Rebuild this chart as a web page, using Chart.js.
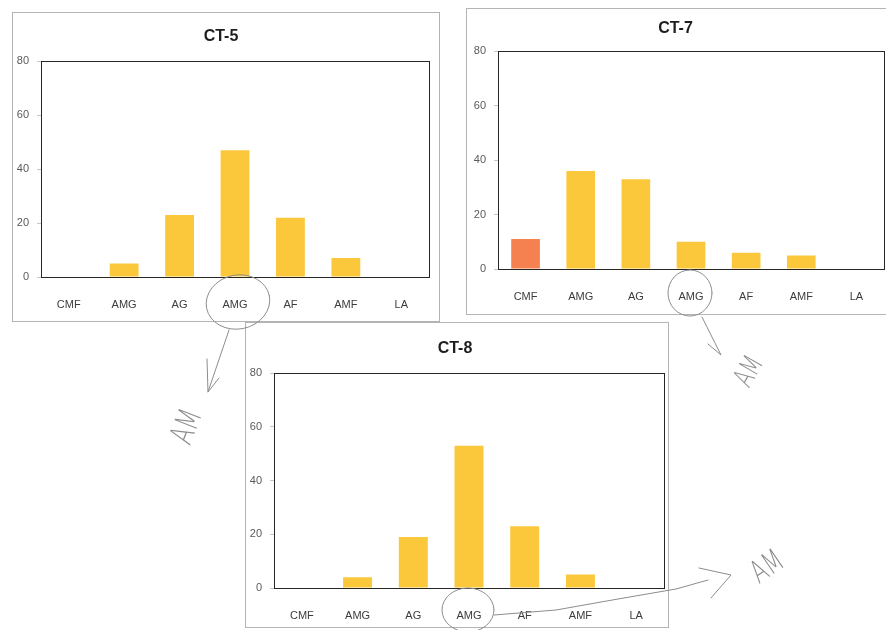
<!DOCTYPE html>
<html>
<head>
<meta charset="utf-8">
<script src="https://cdn.jsdelivr.net/npm/chart.js@4.4.1/dist/chart.umd.min.js"></script>
<style>
  html, body { margin: 0; padding: 0; background: #fff; }
  body { width: 886px; height: 630px; position: relative; overflow: hidden; }
  .panel { position: absolute; background: #fff; border: 1px solid #b4b4b4; box-sizing: border-box; }
  .panel canvas { position: absolute; left: 0; top: 0; }
  #notes { position: absolute; left: 0; top: 0; pointer-events: none; }
</style>
</head>
<body>
<div class="panel" id="p5"><canvas id="c5"></canvas></div>
<div class="panel" id="p7"><canvas id="c7"></canvas></div>
<div class="panel" id="p8"><canvas id="c8"></canvas></div>
<canvas id="notes" width="886" height="630"></canvas>
<script>
// Categories along the x axis (same order in every panel)
const categories = ['CMF', 'AMG', 'AG', 'AMG', 'AF', 'AMF', 'LA'];

// Values per panel
const ct5Values = [0, 5, 23, 47, 22, 7, 0];
const ct7Values = [11, 36, 33, 10, 6, 5, 0];
const ct8Values = [0, 4, 19, 53, 23, 5, 0];

// Y axis tick labels
const yTicks = [0, 20, 40, 60, 80];

// Panel titles
const titles = ['CT-5', 'CT-7', 'CT-8'];

// Bar colour per category
const ORANGE = '#F4814F';
const YELLOW = '#FBC73B';
const barColors = categories.map((c, i) => i === 0 ? ORANGE : YELLOW);

// Panel boxes and plot insets (px)
const panels = [
  { id: 'p5', canvas: 'c5', left: 12,  top: 12,  width: 428, height: 310,
    yW: 28, xH: 46, padR: 12, tTop: 14, tBot: 15, values: ct5Values, title: titles[0] },
  { id: 'p7', canvas: 'c7', left: 466, top: 8,   width: 430, height: 307,
    yW: 31, xH: 47, padR: 13, tTop: 10, tBot: 13, values: ct7Values, title: titles[1] },
  { id: 'p8', canvas: 'c8', left: 245, top: 322, width: 424, height: 306,
    yW: 28, xH: 41, padR: 6,  tTop: 16, tBot: 15, values: ct8Values, title: titles[2] }
];

const FONT = "'Liberation Sans', Arial, Helvetica, sans-serif";

// Dark frame around the plot area
const framePlugin = {
  id: 'frame',
  afterDatasetsDraw(chart) {
    const a = chart.chartArea, ctx = chart.ctx;
    ctx.save();
    ctx.strokeStyle = '#262626';
    ctx.lineWidth = 1;
    ctx.strokeRect(Math.round(a.left) + 0.5, Math.round(a.top) + 0.5,
                   Math.round(a.right - a.left), Math.round(a.bottom - a.top));
    ctx.restore();
  }
};

const charts = panels.map(p => {
  const div = document.getElementById(p.id);
  Object.assign(div.style, { left: p.left + 'px', top: p.top + 'px',
                             width: p.width + 'px', height: p.height + 'px' });
  const cv = document.getElementById(p.canvas);
  cv.width = p.width; cv.height = p.height;
  return new Chart(cv, {
    type: 'bar',
    data: {
      labels: categories,
      datasets: [{ data: p.values, backgroundColor: barColors, borderWidth: 0,
                   barPercentage: 0.52, categoryPercentage: 1 }]
    },
    options: {
      responsive: false,
      animation: false,
      events: [],
      layout: { padding: { left: 0, right: p.padR, top: 0, bottom: 0 } },
      plugins: {
        legend: { display: false },
        tooltip: { enabled: false },
        title: {
          display: true, text: p.title, color: '#1e1e1e',
          font: { family: FONT, size: 16, weight: 'bold' },
          padding: { top: p.tTop, bottom: p.tBot }
        }
      },
      scales: {
        x: {
          grid: { display: false },
          border: { display: false },
          ticks: { color: '#3c3c3c', font: { family: FONT, size: 11 }, padding: 13,
                   maxRotation: 0, autoSkip: false },
          afterFit(s) { s.height = p.xH; }
        },
        y: {
          min: 0, max: 80,
          afterBuildTicks(s) { s.ticks = yTicks.map(v => ({ value: v })); },
          grid: { drawOnChartArea: false, drawTicks: true, tickLength: 4, tickColor: '#c8c8c8' },
          border: { display: false },
          ticks: { color: '#5a5a5a', font: { family: FONT, size: 11 }, padding: 8 },
          afterFit(s) { s.width = p.yW; }
        }
      }
    },
    plugins: [framePlugin]
  });
});

// Pencil notes: circles round the fourth category label, arrows and "AM"
(function drawNotes() {
  const ctx = document.getElementById('notes').getContext('2d');
  ctx.strokeStyle = '#8c8c8c';
  ctx.fillStyle = '#8c8c8c';
  ctx.lineWidth = 1;
  ctx.lineCap = 'round';
  ctx.lineJoin = 'round';

  function labelPos(i) {
    const ch = charts[i], p = panels[i];
    return { x: p.left + ch.scales.x.getPixelForTick(3),
             y: p.top + ch.chartArea.bottom + 19 };
  }
  function ellipse(cx, cy, rx, ry, rot) {
    ctx.beginPath();
    ctx.ellipse(cx, cy, rx, ry, rot, 0, Math.PI * 2);
    ctx.stroke();
  }
  function poly(pts) {
    ctx.beginPath();
    ctx.moveTo(pts[0][0], pts[0][1]);
    for (let k = 1; k < pts.length; k++) ctx.lineTo(pts[k][0], pts[k][1]);
    ctx.stroke();
  }
  function note(x, y, ang, size) {
    ctx.save();
    ctx.translate(x, y);
    ctx.rotate(ang);
    ctx.scale(0.85, 1.25);
    ctx.font = '200 ' + size + "px 'DejaVu Sans', sans-serif";
    ctx.textAlign = 'center';
    ctx.textBaseline = 'middle';
    ctx.fillText('AM', 0, 0);
    ctx.restore();
  }

  // CT-5
  let a = labelPos(0);
  ellipse(a.x + 4, a.y + 7, 32, 27, -0.2);
  poly([[a.x - 5, a.y + 35], [a.x - 26, a.y + 97]]);
  poly([[a.x - 27, a.y + 64], [a.x - 26, a.y + 97], [a.x - 15, a.y + 83]]);
  note(a.x - 46, a.y + 132, -1.2, 26);

  // CT-7
  a = labelPos(1);
  ellipse(a.x, a.y + 6, 22, 23, 0);
  poly([[a.x + 12, a.y + 30], [a.x + 31, a.y + 68], [a.x + 18, a.y + 57]]);
  note(a.x + 60, a.y + 85, -1.05, 23);

  // CT-8
  a = labelPos(2);
  ellipse(a.x, a.y + 4, 26, 22, 0);
  poly([[a.x + 26, a.y + 9], [a.x + 88, a.y + 4], [a.x + 150, a.y - 7],
        [a.x + 208, a.y - 17], [a.x + 240, a.y - 26]]);
  poly([[a.x + 231, a.y - 38], [a.x + 263, a.y - 31], [a.x + 243, a.y - 8]]);
  note(a.x + 300, a.y - 38, -0.6, 25);
})();
</script>
</body>
</html>
